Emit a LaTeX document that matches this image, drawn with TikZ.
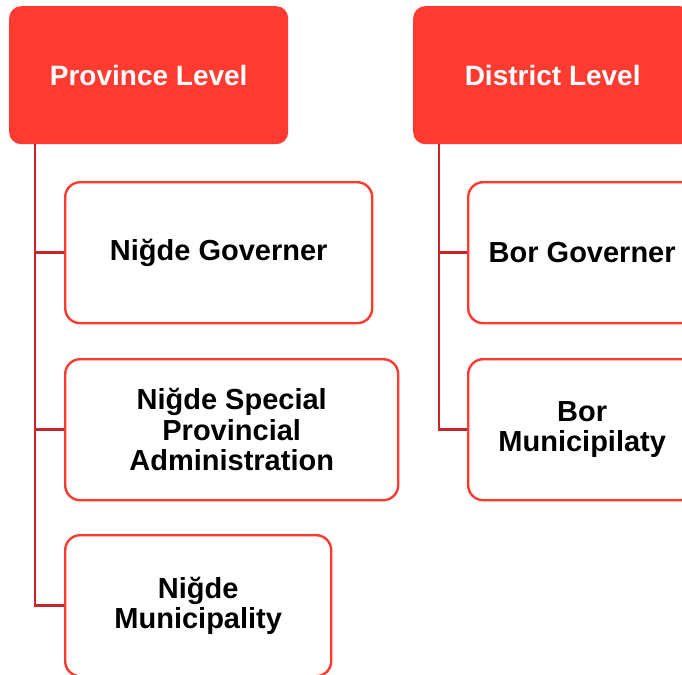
\documentclass[tikz,border=0pt]{standalone}
\usepackage{fontspec}
\setmainfont{Liberation Sans}
\definecolor{hdr}{RGB}{255,58,48}
\definecolor{edge}{RGB}{255,58,48}
\definecolor{conn}{RGB}{196,40,42}
\begin{document}
\begin{tikzpicture}[x=1pt,y=-1pt,
  header/.style={draw=none,fill=hdr,rounded corners=12pt,minimum width=279pt,minimum height=138pt,inner sep=0pt,anchor=north west,text=white,font=\bfseries\fontsize{28}{30}\selectfont},
  child/.style={draw=edge,line width=2.4pt,fill=white,rounded corners=15pt,minimum height=141pt,inner sep=0pt,anchor=north west,align=center,font=\bfseries\fontsize{29}{30.5}\selectfont},
  link/.style={draw=conn,line width=2.8pt}]
\useasboundingbox (0,0) rectangle (682,674);
\clip (0,0) rectangle (682,674);
\node[header] (prov) at (9,6) {Province Level};
\node[header] (dist) at (413,6) {District Level};
\coordinate (pl) at ([xshift=26pt]prov.south west);
\coordinate (dl) at ([xshift=26pt]dist.south west);
\node[child,minimum width=307pt] (g1) at (64,181) {Niğde Governer};
\node[child,minimum width=333pt] (g2) at (64,358) {Niğde Special\\Provincial\\Administration};
\node[child,minimum width=266pt] (g3) at (64,534) {Niğde\\Municipality};
\node[child,minimum width=228pt] (b1) at (467,181) {Bor Governer};
\node[child,minimum width=228pt] (b2) at (467,358) {Bor\\Municipilaty};
\begin{scope}[on background layer/.style={}]
\draw[link] (pl) |- (g1.west);
\draw[link] (pl) |- (g2.west);
\draw[link] (pl) |- (g3.west);
\draw[link] (dl) |- (b1.west);
\draw[link] (dl) |- (b2.west);
\end{scope}
\end{tikzpicture}
\end{document}
